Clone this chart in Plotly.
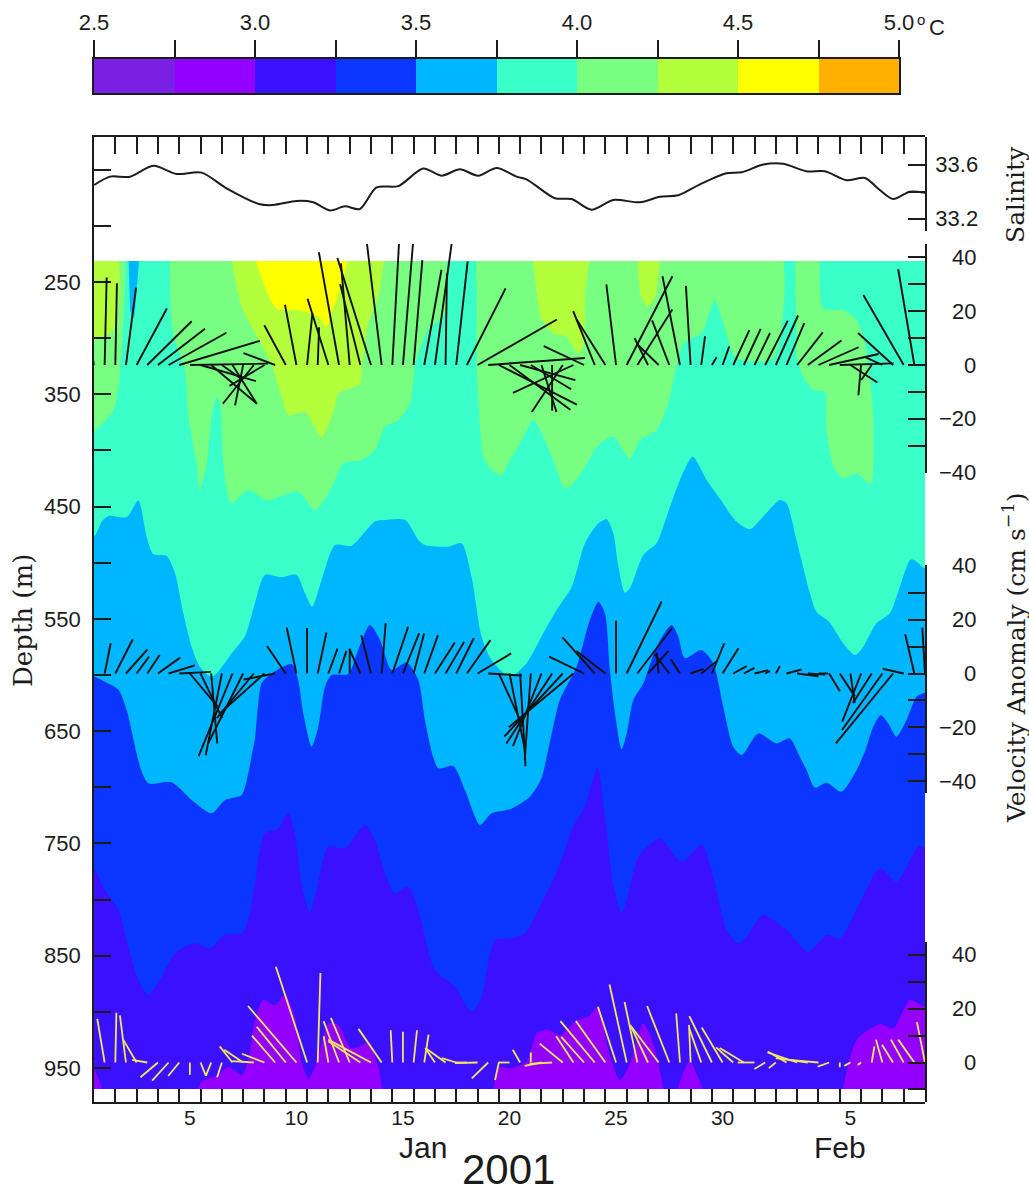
import plotly.graph_objects as go

W, H = 1029, 1193

# ---------- colour scale ----------
CBAR_EDGES = [2.5, 2.75, 3.0, 3.25, 3.5, 3.75, 4.0, 4.25, 4.5, 4.75, 5.0]
CBAR_COLORS = ["#7a1fe4", "#9400ff", "#3a10ff", "#0a36ff", "#00b6ff",
               "#3affc8", "#78ff82", "#b4ff3c", "#ffff00", "#ffb000"]
CBAR_LABELS = ["2.5", "", "3.0", "", "3.5", "", "4.0", "", "4.5", "", "5.0"]

# ---------- salinity ----------
SAL_DAY = [0.01,0.75,1.69,2.78,3.88,5.05,6.22,7.79,8.41,9.51,10.29,11.07,11.78,12.48,13.26,14.28,15.45,16.31,17.17,18.03,18.9,19.83,20.3,21.63,22.41,23.35,24.37,25.62,26.56,27.42,28.44,29.68,30.39,31.41,32.35,33.44,34.3,35.32,36.18,36.88,37.51,38.29,39.0]
SAL_VAL = [33.448,33.51,33.51,33.59,33.53,33.54,33.424,33.305,33.30,33.33,33.32,33.26,33.29,33.27,33.43,33.44,33.57,33.517,33.564,33.517,33.574,33.51,33.49,33.35,33.344,33.265,33.337,33.32,33.361,33.372,33.453,33.535,33.542,33.60,33.606,33.55,33.55,33.483,33.50,33.411,33.344,33.399,33.39]

# ---------- isotherm depths (m) against day ----------
ISO375_DAY = [0,.36,.67,1.53,2.08,2.47,2.78,3.41,3.8,4.19,4.58,4.97,5.49,5.83,6.46,7.08,7.55,8.02,8.8,9.51,9.9,10.24,10.68,11.31,12.09,13.18,13.65,14.6,15.22,15.53,16.63,17.25,17.72,18.19,18.66,19.52,20.3,21.08,21.71,22.42,23.04,23.67,24.06,24.37,24.61,24.92,25.15,25.78,26.4,26.87,27.5,28.1,28.75,29.36,30.15,30.78,31.4,32.19,32.5,32.97,33.6,33.9,34.5,35.16,35.71,36.1,36.72,37.35,37.82,38.3,38.5,39]
ISO375_DEP = [476.8,463.4,458.4,459.6,444.7,476.8,492.2,494,509.4,545,574.8,592.6,601.5,597,580.7,565.8,536.2,510.9,513,510.9,527.2,539.1,515.4,484.2,484.8,463.4,462,462,479.7,484.2,485.7,482.7,512.4,565.8,586.6,601.5,589.6,562.9,542.1,521.3,482.7,464.9,461.3,473.8,503.5,526.7,522.8,493.1,482.7,459,426.3,405.6,426.3,442.6,463.4,470.2,459,444.1,447,479.7,527.2,543.6,552.5,571.8,582.2,574.8,554,545,521.3,497.6,497.6,505]

ISO350_DAY = [0,.51,1.14,1.53,2.0,2.16,2.55,3.64,4.58,5.52,6.15,6.93,7.24,7.45,7.55,7.87,8.3,9.27,9.58,9.82,10.21,10.53,10.84,11.15,11.93,12.4,12.95,13.42,13.97,14.67,15.22,15.53,15.9,16.16,16.86,17.41,18.12,18.66,19.52,20.46,21.0,21.3,21.55,21.86,22.65,23.27,23.67,23.98,24.21,24.45,24.76,25,25.31,25.78,26.4,27.11,27.42,27.73,28.5,29.06,29.53,30.0,30.4,31.17,32.03,32.65,33.1,33.44,33.83,34.38,35.08,35.79,36.18,36.57,36.92,37.27,37.66,38.13,38.6,39]
ISO350_DEP = [601.5,606,613,631,670,681.6,696.5,695.6,711.3,723.2,711.3,706.9,687.6,666.8,657.9,607.4,599,590.2,604.4,634.1,663.8,646,610.4,600,599.1,577.7,555.5,568.8,595.5,589,604.4,640.1,672,683.1,681,702.4,733.6,723.2,719.6,708.4,692,668,646,622.3,592.6,551,534.7,545,595.5,634.1,666.2,652,622.3,607.4,574.8,555.5,565.8,585.1,577.7,589.6,628.2,663.8,671.2,652,660.9,656.4,672,684.6,700.4,695.9,703.9,684.6,668,646,635.6,643,654.9,640.1,619.3,615.7]

ISO325_DAY = [0,.51,1.14,1.61,2.08,2.55,3.17,3.8,4.73,5.44,6.15,6.93,7.24,7.55,8.02,8.65,9.12,9.43,9.74,10.13,10.45,11,11.78,12.72,13.18,13.65,14.13,14.75,15.22,16,16.94,17.72,18.19,18.82,19.6,20.22,21.08,21.86,22.49,23.04,23.63,23.98,24.37,24.76,25.08,25.55,26.56,27.58,28.52,29.06,29.69,30.24,30.63,31.41,32.5,33.52,34.38,35,35.79,36.88,37.66,38.68,39]
ISO325_DEP = [773.7,791.5,809.3,842,871.7,885,868.7,847.9,839,843.5,831.6,830.1,818.2,785.6,741,736.6,723.2,741,785.6,810.8,791.5,752.9,754.4,733.6,747,776.7,794.5,788.5,809.3,862.8,877.6,899.9,886.5,836,834.5,830,800.4,769.2,735,717.3,683.1,726.2,785.6,812.3,794.5,761.8,745.5,766.3,751.4,779.6,827.1,839,833.1,813.8,827.1,846.4,831.6,834.5,809.3,772.2,784.1,752.9,752.9]

# ---------- closed regions of one temperature class: (days, depths) ----------
COLD_300 = [
    ([0,.2,.44,0], [950.3,959,975,975]),
    ([4.73,5.05,5.83,6.3,6.93,7.24,7.55,7.94,8.49,8.96,9.43,9.74,10.06,10.37,10.76,11,11.47,12.09,12.87,13.34,13.57,13.6,4.7],
     [975,962.2,956.3,948.9,956.3,942.9,907.3,889.5,894,885,904.3,944.4,959.3,948.9,922.1,910.3,911.7,932.5,928.1,948.9,975,985,985]),
    ([18.74,18.97,19.52,20.3,20.77,21.3,21.9,22.65,23.2,23.67,24.14,24.68,25.15,25.78,26.25,26.8,26.85,18.7],
     [975,948.9,950.3,944.4,919.2,915.6,920.6,907.3,904.3,895.4,934,960.7,945.9,910.3,928.1,975,985,985]),
    ([27.27,27.95,28.66,28.7,27.2], [975,944.4,975,985,985]),
    ([35.08,35.79,36.88,37.51,38.29,39,40,40,35], [975,925.1,910.9,914.7,889.5,895.4,895,985,985]),
]
WARM_400 = [
    ([-.5,1.22,1.22,.91,-.5], [200,200,328.4,364,392]),
    ([3.57,3.68,4.27,4.43,4.82,4.97,5.29,5.52,5.76,5.91,6.07,6.23,6.46,7.24,8.1,9.59,10.37,11,11.31,11.7,12.56,13.19,13.66,14.28,14.83,14.99,15.06,15.69,16.47,16.47],
     [200,292.8,328.4,370,411.5,435.3,411.5,370,352.2,358.1,411.5,435.3,447.2,435.3,444.2,436.8,453.1,438.3,426.4,411.5,408.6,399.7,378.9,372.9,358.1,337.3,323.9,292.8,277.9,200]),
    ([17.88,31.88,31.88,30.16,29.53,29.14,28.51,27.66,27.34,27.03,26.41,25.62,25.15,24.37,23.59,22.96,22.41,22.1,21.55,21.09,20.62,20,19.52,19.13,18.66,18.27,18.04,17.96,17.96],
     [200,200,318,318,286.8,266,295.7,304.6,323.9,352.2,381.8,390.7,407.1,387.8,396.7,417.5,430.8,433.8,408.6,387.8,372.9,393.7,408.6,421.9,417.5,405.6,352.2,323.9,263.1]),
    ([32.9,33.88,34.23,35.16,35.79,36.18,36.42,36.57,36.49,36.34,35.79,35.24,34.77,34.38,34.3,33.76,33.29,32.97],
     [200,200,273.5,275,283.9,304.6,337.3,370,427.9,429.3,420.4,424.9,417.5,381.8,347.7,346.2,334.3,316.5]),
]
WARM_425 = [
    ([-.5,.91,.91,-.5], [200,200,292.8,305]),
    ([6.15,6.93,7.4,8.34,8.81,9.12,9.9,10.68,11.31,11.47,12.48,12.59,12.87,13.34,13.81],
     [200,272,289.8,323.9,352.2,368.5,365.5,387.8,361,349.2,340.3,323.9,286.8,263.1,200]),
    ([20.38,23.15,23.04,22.99,22.73,22.18,21.55,20.93], [200,200,263.1,304.6,313.6,298.7,295.7,280.9]),
    ([25.39,26.45,26.33,25.94,25.62], [200,200,263.1,272,260.1]),
]
WARM_450 = [
    ([7.09,8.02,8.57,9.59,10.53,10.92,11.15,11.78,12.09], [200,254.2,273.5,275,280.9,289.8,277.9,242.3,200]),
]
BLUE_SPOT = ([1.58,2.08,2.0,1.85,1.69], [200,200,257.1,282.4,275])

# ---------- velocity anomaly sticks (cm/s) every half day ----------
U1 = [-0.3,.75,.6,3.75,11.25,16.5,17.5,21.5,30,29,20.6,17,7,9,-3,-11.5,-13,-11.75,-8,-4.25,2,.5,-7.75,-7.5,-3.25,-7.5,-12.5,-5.5,2.5,3.75,3.25,6.4,6.25,.5,4.25,14.4,29.5,36,29,22.6,20.5,15,5.6,0,-11.5,-22.5,-15,-8,-10.75,-3.6,17,13,-5,-8.25,-6.4,-6.5,-1.75,1.4,1.75,2.5,6,6.25,5.75,8.4,8.25,6.6,9.5,12.5,14.9,18.4,20,10,-1,-3.9,-6.6,-13,-15,-6,0]
V1 = [1.5,32.5,30.4,28.75,21,16.25,13.5,12,9,.5,-6,-14.4,-5,-14.4,-15,-14.4,-7.75,4.4,14.75,22.4,19.4,14,24.6,41.9,37.75,30,39.75,45.4,45.4,45.4,39,35.4,45.4,34,38.5,28.5,16.9,2.6,-14.75,-16.6,-5.6,-9,-17.5,-17,-17.5,-10.4,7,20,17,30,33,20.6,10,8,16.6,33,29.4,10.6,2.9,6.9,13,13.4,11.9,16.5,18.4,15.6,12.1,9.1,6.6,4.1,.6,-6.5,-11.25,-5.6,3,11.9,26,35.6,0]

U2 = [0,2.25,6.5,8,4.6,4.6,8.25,9.75,11.75,10.25,8,2.25,-6,-12.6,-13,-13.75,-16.5,-11.75,-7,-3.6,0,3.25,3.4,2.75,0,-4,-3.6,1.5,5.9,6,3.9,5.1,7.4,6.9,6.5,8.75,12.5,12.5,9,5.75,2,-2.25,-10.6,-17,-21.75,-24,-13,-12,-10.75,0,13,13,7.6,-.75,-5.4,-3.4,4.75,5.75,4.6,5.9,5,3.9,5.1,1.75,1.5,5.6,7.9,6.4,3.6,4,5.6,1.6,-7,-7,-15,-21.25,-7.75,-3.4,-1]
V2 = [0,11.25,12.75,9,6.25,6.9,5.9,3,.6,-12.25,-16.6,-26,-30.4,-30.75,-26,-16.6,-14.75,-2.25,10.25,17,16.9,15.25,9.25,8.4,9.25,9,14.25,18.75,17.4,14.9,14.9,14.25,11.5,11.75,13.1,12.4,7.5,-.75,-19.75,-28.5,-34.5,-32,-27,-26,-23.5,-20,6.25,13.4,8.4,19.6,26.75,17,8.4,7.75,7.1,5.25,1.75,4.6,11.25,9.4,2.75,2.1,1.25,.9,2.75,1.5,-1,-.4,0,-6.6,-8.5,-11,-17.9,-11,-21,-26,1.75,14.6,17]

U3 = [-.9,-2.75,.4,-2.25,-5,-5.6,-6.5,-6.1,-4.1,0,2,-2,-1.75,-4.75,-7,-8,-8.4,-8.6,-10.75,-18,-11.6,1,-1.75,-5.75,-7,-11.9,-15.9,-8.6,-.6,0,1.25,1.6,-3.6,-7,-5.4,-4.4,-8.4,-6.1,-1.4,-4.1,-2.75,0,-6.25,-8.4,-8.6,-6.4,-8.5,-12.75,-11,-6.75,-6.4,-4.75,-6.6,-10.25,-8.25,-1.4,-.6,-4.4,-8.4,-7.75,-6.4,-9,-6.25,-4,-2.6,-7,-11,-11.9,-10.9,-4.25,0,-2.25,-1.25,1,-2.4,-4.1,-4.75,-6,-3]
V3 = [.4,16.25,18.5,17.5,8.5,1,-5.5,-6.75,-5,-4.6,-5,-5,-5.5,6,4.75,.5,3.25,10,13.25,21,35.6,33.25,9.75,15.4,16.6,7.9,8.5,12.5,12,11.4,12,10.4,5.4,5,1.6,0,-.25,-5.9,-6.5,0,4.75,3.75,-1.25,-.5,7,9.75,9.5,15.4,15.4,20.75,29,22.5,14,13.5,21,18.25,14,12.5,17.25,13,5.6,5.4,0,-2.4,-2.1,4.1,3.75,1.6,1,-1.5,-1.75,-1.25,-.9,6,8.5,6.6,8.5,8.5,15]

# ---------- axis ticks ----------
DAY_TICKS = list(range(0, 40))
DAY_LABEL_POS = [4.5, 9.5, 14.5, 19.5, 24.5, 29.5, 35.5]
DAY_LABELS = ["5", "10", "15", "20", "25", "30", "5"]
DEPTH_TICKS = list(range(150, 951, 50))
DEPTH_LABELS = [str(d) if (d - 250) % 100 == 0 and d >= 250 else "" for d in DEPTH_TICKS]
SAL_TICKS = [33.2, 33.4, 33.6]
SAL_LABELS = ["33.2", "", "33.6"]
VEL_TICKS_A = [-40, -30, -20, -10, 0, 10, 20, 30, 40]
VEL_TICKS_C = [-10, 0, 10, 20, 30, 40]
VEL_LABEL_A = [-40, -20, 0, 20, 40]
VEL_LABEL_C = [0, 20, 40]

# ---------- layout helpers ----------
INK = "#1c1c1c"
SANS = "Liberation Sans"
SERIF = "DejaVu Serif"
PLOT_L, PLOT_R = 94, 925
DAYS = 39.0
PX_DAY = (PLOT_R - PLOT_L) / DAYS
PX_VEL = 2.69          # px per cm/s, all three stick panels
STICK_SCALE = PX_VEL / PX_DAY


def dom(top, bot):
    return [1 - bot / H, 1 - top / H]


def vrange(top, bot, y_ref, val_ref, px_per):
    return [val_ref - (bot - y_ref) / px_per, val_ref + (y_ref - top) / px_per]


fig = go.Figure()


def poly(xs, ys, color, yaxis="y"):
    fig.add_trace(go.Scatter(x=xs, y=ys, mode="lines", fill="toself", fillcolor=color,
                             line=dict(width=0, shape="spline", smoothing=0.7),
                             hoverinfo="skip", showlegend=False, xaxis="x", yaxis=yaxis))


def below(days, depths, color):
    poly([-1] + days + [40, 40, -1], [depths[0]] + depths + [depths[-1], 1000, 1000], color)


C = dict(zip(CBAR_EDGES[:-1], CBAR_COLORS))
# base class then warm patches then cold layers
fig.add_trace(go.Scatter(x=[-1, 40, 40, -1], y=[200, 200, 1000, 1000], mode="lines", fill="toself",
                         fillcolor=C[3.75], line=dict(width=0), hoverinfo="skip", showlegend=False,
                         xaxis="x", yaxis="y"))
for xs, ys in WARM_400:
    poly(xs, ys, C[4.0])
for xs, ys in WARM_425:
    poly(xs, ys, C[4.25])
for xs, ys in WARM_450:
    poly(xs, ys, C[4.5])
poly(BLUE_SPOT[0], BLUE_SPOT[1], C[3.5])
below(ISO375_DAY, ISO375_DEP, C[3.5])
below(ISO350_DAY, ISO350_DEP, C[3.25])
below(ISO325_DAY, ISO325_DEP, C[3.0])
for xs, ys in COLD_300:
    poly(xs, ys, C[2.75])

# frame axis / dummy traces so that tick-only axes are kept
for xa in ("x", "x2", "x3"):
    fig.add_trace(go.Scatter(x=[1], y=[500], mode="lines", hoverinfo="skip", showlegend=False,
                             xaxis=xa, yaxis="y2"))

# salinity
fig.add_trace(go.Scatter(x=SAL_DAY, y=SAL_VAL, mode="lines", line=dict(color=INK, width=2, shape="spline", smoothing=0.8),
                         hoverinfo="skip", showlegend=False, xaxis="x", yaxis="y3", cliponaxis=False))


def sticks(us, vs, color, width, yaxis):
    xs, ys = [], []
    for k, (u, v) in enumerate(zip(us, vs)):
        d0 = k * 0.5
        xs += [d0, d0 + u * STICK_SCALE, None]
        ys += [0, v, None]
    fig.add_trace(go.Scatter(x=xs, y=ys, mode="lines", line=dict(color=color, width=width),
                             hoverinfo="skip", showlegend=False, xaxis="x", yaxis=yaxis, cliponaxis=False))


sticks(U1, V1, "#111111", 1.9, "y4")
sticks(U2, V2, "#111111", 1.9, "y5")
sticks(U3, V3, "#f2e65a", 1.8, "y6")

# colour bar
fig.add_trace(go.Bar(x=[(a + b) / 2 for a, b in zip(CBAR_EDGES[:-1], CBAR_EDGES[1:])], y=[1] * 10, width=0.25,
                     marker=dict(color=CBAR_COLORS, line=dict(width=0)), hoverinfo="skip", showlegend=False,
                     xaxis="x4", yaxis="y7"))

tick_common = dict(showgrid=False, zeroline=False, ticks="inside", tickcolor=INK, tickwidth=1.6,
                   linecolor=INK, linewidth=1.8, showline=True)
x_dom = [PLOT_L / W, PLOT_R / W]
lab_font = dict(family=SANS, size=22, color=INK)

layout = dict(
    template="none",
    width=W, height=H, autosize=False, margin=dict(l=0, r=0, t=0, b=0, pad=0), showlegend=False,
    paper_bgcolor="white", plot_bgcolor="rgba(0,0,0,0)", bargap=0,
    xaxis=dict(domain=x_dom, range=[0, DAYS], anchor="y2", tickmode="array", tickvals=DAY_TICKS,
               showticklabels=False, ticklen=13, **tick_common),
    xaxis2=dict(range=[0, DAYS], overlaying="x", anchor="y2", side="top", tickmode="array", tickvals=DAY_TICKS,
                showticklabels=False, ticklen=17, **tick_common),
    xaxis3=dict(range=[0, DAYS], overlaying="x", anchor="y2", side="bottom", tickmode="array",
                tickvals=DAY_LABEL_POS, ticktext=DAY_LABELS, tickfont=dict(family=SANS, size=21, color=INK),
                showgrid=False, zeroline=False, ticks="", showline=False, ticklabelstandoff=1),
    xaxis4=dict(domain=[94 / W, 899 / W], range=[2.5, 5], anchor="y7", side="top", tickmode="array",
                tickvals=CBAR_EDGES, ticktext=CBAR_LABELS, tickfont=lab_font, ticks="outside", ticklen=17,
                tickcolor=INK, tickwidth=1.6, showline=True, mirror=True, linecolor=INK, linewidth=1.8,
                showgrid=False, zeroline=False, ticklabelstandoff=1),
    # temperature field
    yaxis=dict(domain=dom(261, 1089), range=[968.7, 231.3], anchor="x", visible=False),
    # depth frame axis
    yaxis2=dict(domain=dom(137, 1102), range=[250 + (1102 - 282) / 1.1229, 250 + (137 - 282) / 1.1229], anchor="x",
                tickmode="array", tickvals=DEPTH_TICKS, ticktext=DEPTH_LABELS, tickfont=lab_font, ticklen=17,
                ticklabelstandoff=7, **tick_common),
    # salinity
    yaxis3=dict(domain=dom(137, 231), range=vrange(137, 231, 164.5, 33.6, 135), anchor="x", side="right",
                tickmode="array", tickvals=SAL_TICKS, ticktext=SAL_LABELS, tickfont=lab_font, ticklen=17,
                ticklabelstandoff=4, **tick_common),
    # stick panels
    yaxis4=dict(domain=dom(244, 473), range=vrange(244, 473, 365, 0, PX_VEL), anchor="x", side="right",
                tickmode="array", tickvals=VEL_TICKS_A, showticklabels=False, ticklen=17, **tick_common),
    yaxis5=dict(domain=dom(565, 793), range=vrange(565, 793, 673.5, 0, PX_VEL), anchor="x", side="right",
                tickmode="array", tickvals=VEL_TICKS_A[:], showticklabels=False, ticklen=17, **tick_common),
    yaxis6=dict(domain=dom(942, 1102), range=vrange(942, 1102, 1062.5, 0, PX_VEL), anchor="x", side="right",
                tickmode="array", tickvals=VEL_TICKS_C, showticklabels=False, ticklen=17, **tick_common),
    yaxis7=dict(domain=dom(59, 93), range=[0, 1], anchor="x4", showticklabels=False, ticks="", showline=True,
                mirror=True, linecolor=INK, linewidth=1.8, showgrid=False, zeroline=False),
)

notes = []


def note(text, x, y, size, family=SANS, angle=0, xanchor="center", yanchor="middle", yref="paper"):
    yy = 1 - y / H if yref == "paper" else y
    notes.append(dict(text=text, x=x / W, y=yy, xref="paper", yref=yref, showarrow=False, xanchor=xanchor,
                      yanchor=yanchor, textangle=angle, font=dict(family=family, size=size, color=INK)))


for v in VEL_LABEL_A:
    note(f"\u2212{abs(v)}" if v < 0 else str(v), 978, v, 22, xanchor="right", yref="y4")
    note(f"\u2212{abs(v)}" if v < 0 else str(v), 978, v, 22, xanchor="right", yref="y5")
for v in VEL_LABEL_C:
    note(str(v), 978, v, 22, xanchor="right", yref="y6")

note("o", 921, 19, 15)
note("C", 937, 27, 22)
note("Jan", 423, 1147, 30)
note("Feb", 840, 1147, 30)
note("2001", 508, 1169, 42)
note("Depth (m)", 23, 621, 26, family=SERIF, angle=-90)
note("Salinity", 1015, 195, 25, family=SERIF, angle=-90)
note("Velocity Anomaly (cm s<sup>\u22121</sup>)", 1014, 658, 25, family=SERIF, angle=-90)
layout["annotations"] = notes

fig.update_layout(**layout)
fig.write_html("out.html", post_script="document.body.style.margin='0';", config={"displayModeBar": False})
